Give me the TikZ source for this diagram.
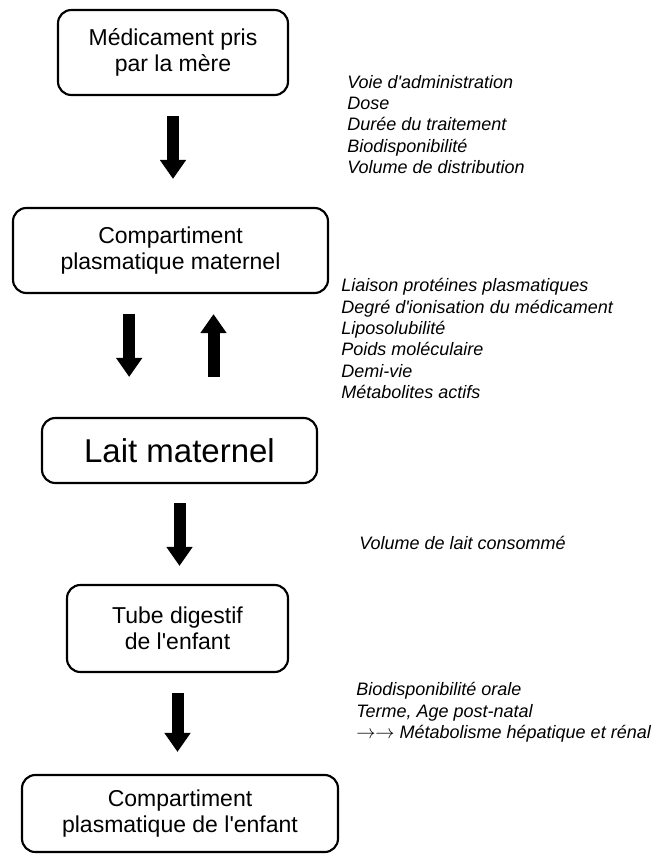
\documentclass[tikz,border=0pt]{standalone}
\usepackage{fontspec}
\setmainfont{Liberation Sans}
\usetikzlibrary{arrows.meta}

\begin{document}
\begin{tikzpicture}[x=0.75pt,y=-0.75pt,
    boite/.style={draw, line width=1.6pt, rounded corners=10pt, align=center, inner sep=0pt,
      font=\fontsize{17.25}{19.5}\selectfont},
    fleche/.style={line width=9pt, -{Triangle[width=18.75pt,length=14.25pt]}},
    facteurs/.style={anchor=base west, align=left, inner sep=0pt,
      font=\fontsize{13.5}{16}\selectfont\itshape}]

  \useasboundingbox (0,0) rectangle (654,856);

  % les compartiments
  \node[boite, minimum width=172.5pt, minimum height=63.75pt] (med) at (173,52.5) {Médicament pris\\par la mère};
  \node[boite, minimum width=236.25pt, minimum height=63.75pt] (plm) at (170.5,250.5) {Compartiment\\plasmatique maternel};
  \node[boite, minimum width=206.25pt, minimum height=48.75pt, font=\fontsize{24.75}{28}\selectfont] (lait) at (179.5,450.5) {Lait maternel};
  \node[boite, minimum width=165.75pt, minimum height=65.25pt] (tube) at (177.5,628.5) {Tube digestif\\de l\textquotesingle enfant};
  \node[boite, minimum width=237pt, minimum height=57.75pt] (ple) at (180,813.5) {Compartiment\\plasmatique de l\textquotesingle enfant};

  % les facteurs (base = derniere ligne)
  \node[facteurs] (admin) at (347,173.5) {Voie d\textquotesingle administration\\Dose\\Durée du traitement\\Biodisponibilité\\Volume de distribution};
  \node[facteurs] (passage) at (341,398.5) {Liaison protéines plasmatiques\\Degré d\textquotesingle ionisation du médicament\\Liposolubilité\\Poids moléculaire\\Demi-vie\\Métabolites actifs};
  \node[facteurs] (volume) at (359,549.5) {Volume de lait consommé};
  \node[facteurs] (orale) at (356,738.5) {Biodisponibilité orale\\Terme, Age post-natal\\$\rightarrow\rightarrow$ Métabolisme hépatique et rénal};

  % les fleches
  \draw[fleche, shorten <=15pt, shorten >=21pt] (med.south) -- (med.south |- plm.north);
  \draw[fleche, shorten <=15pt, shorten >=30pt] ([xshift=-31pt]plm.south) -- ([xshift=-31pt]plm.south |- lait.north);
  \draw[fleche, shorten <=30pt, shorten >=15pt] ([xshift=32.25pt]plm.south |- lait.north) -- ([xshift=32.25pt]plm.south);
  \draw[fleche, shorten <=14.25pt, shorten >=13.5pt] (lait.south) -- (lait.south |- tube.north);
  \draw[fleche, shorten <=15pt, shorten >=16.5pt] (tube.south) -- (tube.south |- ple.north);

\end{tikzpicture}
\end{document}
